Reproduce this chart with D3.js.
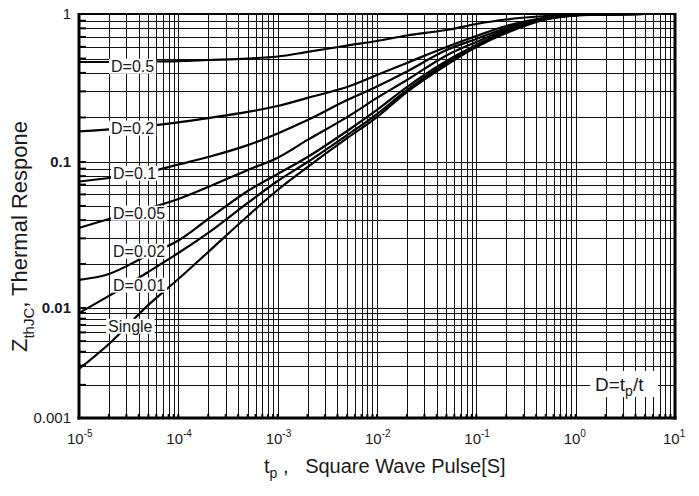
<!DOCTYPE html>
<html>
<head>
<meta charset="utf-8">
<script src="https://cdn.jsdelivr.net/npm/d3@7"></script>
<style>
  body { margin: 0; background: #fff; }
  text { font-family: "Liberation Sans", Arial, sans-serif; fill: #1a1a1a; }
</style>
</head>
<body>
<div id="chart"></div>
<script>
// pulse width [s]
const tp = [1e-5, 2e-5, 5e-5, 1e-4, 2e-4, 5e-4, 1e-3, 2e-3, 5e-3, 1e-2, 2e-2, 5e-2, 0.1, 0.2, 0.5, 1, 2, 5, 10];

// thermal response, one array per duty cycle
const zD05   = [0.474, 0.474, 0.478, 0.481, 0.489, 0.500, 0.516, 0.554, 0.612, 0.657, 0.716, 0.780, 0.856, 0.918, 0.969, 0.988, 0.995, 1, 1];
const zD02   = [0.161, 0.166, 0.175, 0.185, 0.198, 0.218, 0.239, 0.271, 0.321, 0.387, 0.467, 0.598, 0.710, 0.830, 0.947, 0.984, 0.992, 1, 1];
const zD01   = [0.0735, 0.0777, 0.0854, 0.0961, 0.108, 0.130, 0.156, 0.192, 0.262, 0.324, 0.409, 0.571, 0.678, 0.804, 0.940, 0.984, 0.992, 1, 1];
const zD005  = [0.0353, 0.0407, 0.0481, 0.0558, 0.0674, 0.0882, 0.107, 0.141, 0.201, 0.271, 0.358, 0.525, 0.647, 0.786, 0.932, 0.984, 0.992, 1, 1];
const zD002  = [0.0156, 0.0171, 0.0231, 0.0290, 0.0407, 0.0633, 0.0828, 0.108, 0.162, 0.225, 0.321, 0.481, 0.617, 0.767, 0.925, 0.984, 0.992, 1, 1];
const zD001  = [0.00901, 0.0121, 0.0177, 0.0238, 0.0327, 0.0524, 0.0741, 0.100, 0.152, 0.211, 0.306, 0.467, 0.608, 0.756, 0.925, 0.984, 0.992, 1, 1];
const zSingle = [0.00279, 0.00471, 0.0105, 0.0158, 0.0242, 0.0427, 0.0643, 0.0924, 0.145, 0.201, 0.297, 0.452, 0.598, 0.744, 0.918, 0.977, 0.992, 1, 1];

const curveNames = ["D=0.5", "D=0.2", "D=0.1", "D=0.05", "D=0.02", "D=0.01", "Single"];
const curveValues = [zD05, zD02, zD01, zD005, zD002, zD001, zSingle];
// where each name sits (t, Z)
const labelAt = [[2.1e-5, 0.445], [2.1e-5, 0.170], [2.2e-5, 0.0841], [2.2e-5, 0.0448], [2.2e-5, 0.0246], [2.2e-5, 0.0144], [1.96e-5, 0.00686]];

const xTicks = [1e-5, 1e-4, 1e-3, 1e-2, 1e-1, 1, 10];
const xTickExp = ["-5", "-4", "-3", "-2", "-1", "0", "1"];
const yTicks = [1, 0.1, 0.01, 0.001];
const yTickText = ["1", "0.1", "0.01", "0.001"];

const width = 699, height = 496;
const plotL = 79, plotR = 675, plotT = 14, plotB = 418;

const svg = d3.select("#chart").append("svg")
  .attr("width", width)
  .attr("height", height);

svg.append("clipPath").attr("id", "plot-clip")
  .append("rect")
  .attr("x", plotL).attr("y", plotT)
  .attr("width", plotR - plotL).attr("height", plotB - plotT);

const x = d3.scaleLog().domain([1e-5, 10]).range([plotL, plotR]);
// the printed y decades are not even, so map each decade on its own
const y = d3.scaleLog().domain([1e-3, 1e-2, 1e-1, 1]).range([plotB, 308, 162, plotT]);

// minor/major values for the grid
const xGrid = [];
for (let e = -5; e <= 0; e++) for (let k = 1; k <= 9; k++) xGrid.push(k * Math.pow(10, e));
xGrid.push(10);
const yGrid = [];
for (let e = -3; e <= -1; e++) for (let k = 1; k <= 9; k++) yGrid.push(k * Math.pow(10, e));
yGrid.push(1);

// grid
const grid = svg.append("g");
grid.selectAll("line.v").data(xGrid).enter().append("line")
  .attr("x1", d => Math.round(x(d)) + 0.5).attr("x2", d => Math.round(x(d)) + 0.5)
  .attr("y1", plotT).attr("y2", plotB)
  .attr("stroke", "#111").attr("stroke-width", 1);
grid.selectAll("line.h").data(yGrid).enter().append("line")
  .attr("y1", d => Math.round(y(d)) + 0.5).attr("y2", d => Math.round(y(d)) + 0.5)
  .attr("x1", plotL).attr("x2", plotR)
  .attr("stroke", "#111").attr("stroke-width", 1);

// small tick marks on the left and bottom edges
grid.selectAll("line.tx").data(xGrid).enter().append("line")
  .attr("x1", d => x(d)).attr("x2", d => x(d))
  .attr("y1", plotB).attr("y2", plotB - 4)
  .attr("stroke", "#000").attr("stroke-width", 2);
grid.selectAll("line.ty").data(yGrid).enter().append("line")
  .attr("y1", d => y(d)).attr("y2", d => y(d))
  .attr("x1", plotL).attr("x2", plotL + 7)
  .attr("stroke", "#000").attr("stroke-width", 2);

// curves
const line = d3.line()
  .x(d => x(d[0]))
  .y(d => y(d[1]))
  .curve(d3.curveCatmullRom.alpha(0.5));

svg.append("g")
  .attr("clip-path", "url(#plot-clip)")
  .selectAll("path")
  .data(curveValues)
  .enter().append("path")
  .attr("d", vals => line(tp.map((t, i) => [t, vals[i]])))
  .attr("fill", "none")
  .attr("stroke", "#000")
  .attr("stroke-width", 2.2);

// curve names with white boxes
const lab = svg.append("g").selectAll("g")
  .data(curveNames)
  .enter().append("g");
lab.append("text")
  .attr("x", (d, i) => x(labelAt[i][0]))
  .attr("y", (d, i) => y(labelAt[i][1]))
  .attr("dy", "0.36em")
  .style("font-size", "16px")
  .text(d => d);
lab.each(function() {
  const g = d3.select(this);
  const b = g.select("text").node().getBBox();
  g.insert("rect", "text")
    .attr("x", b.x - 2).attr("y", b.y + 1)
    .attr("width", b.width + 4).attr("height", b.height - 2)
    .attr("fill", "#fff");
});

// D=tp/t note
const note = svg.append("g");
note.append("rect")
  .attr("x", 590).attr("y", 371).attr("width", 68).attr("height", 26)
  .attr("fill", "#fff");
const noteText = note.append("text")
  .attr("x", 595).attr("y", 391)
  .style("font-size", "19px");
noteText.append("tspan").text("D=t");
noteText.append("tspan").attr("dy", 5).style("font-size", "14px").text("p");
noteText.append("tspan").attr("dy", -5).text("/t");

// frame
svg.append("line").attr("x1", plotL).attr("x2", plotR).attr("y1", plotT).attr("y2", plotT)
  .attr("stroke", "#000").attr("stroke-width", 2);
svg.append("line").attr("x1", plotL).attr("x2", plotL).attr("y1", plotT - 1).attr("y2", plotB + 1.5)
  .attr("stroke", "#000").attr("stroke-width", 3);
svg.append("line").attr("x1", plotR).attr("x2", plotR).attr("y1", plotT - 1).attr("y2", plotB + 1.5)
  .attr("stroke", "#000").attr("stroke-width", 3);
svg.append("line").attr("x1", plotL - 1.5).attr("x2", plotR + 1.5).attr("y1", plotB).attr("y2", plotB)
  .attr("stroke", "#000").attr("stroke-width", 3);

// x tick labels 10^n
const xl = svg.append("g").selectAll("text")
  .data(xTicks)
  .enter().append("text")
  .attr("x", d => x(d) - 12)
  .attr("y", 444)
  .style("font-size", "15px");
xl.append("tspan").text("10");
xl.append("tspan").attr("dy", -7).style("font-size", "10px").text((d, i) => xTickExp[i]);

// y tick labels
svg.append("g").selectAll("text")
  .data(yTicks)
  .enter().append("text")
  .attr("x", 71)
  .attr("y", d => y(d))
  .attr("dy", "0.36em")
  .attr("text-anchor", "end")
  .style("font-size", "15px")
  .style("font-weight", (d, i) => (i === 1 || i === 2) ? "bold" : "normal")
  .text((d, i) => yTickText[i]);

// axis titles
const xt = svg.append("text")
  .attr("x", 264).attr("y", 473)
  .style("font-size", "20px");
xt.append("tspan").text("t");
xt.append("tspan").attr("dy", 5).style("font-size", "14px").text("p");
xt.append("tspan").attr("dy", -5).attr("xml:space", "preserve").text(" ,   Square Wave Pulse[S]");

const yt = svg.append("text")
  .attr("transform", "translate(27,352) rotate(-90)")
  .style("font-size", "22px");
yt.append("tspan").text("Z");
yt.append("tspan").attr("dy", 7).style("font-size", "15px").text("thJC");
yt.append("tspan").attr("dy", -7).text(", Thermal Respone");
</script>
</body>
</html>
